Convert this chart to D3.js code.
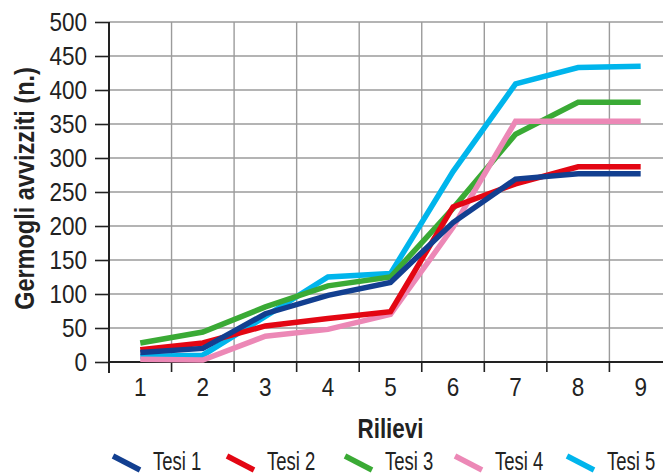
<!DOCTYPE html>
<html>
<head>
<meta charset="utf-8">
<script src="https://cdn.jsdelivr.net/npm/d3@7"></script>
<style>
  html, body { margin: 0; padding: 0; background: #fff; }
  svg { display: block; }
  text { font-family: 'Liberation Sans', Arial, sans-serif; fill: #222; }
</style>
</head>
<body>
<svg id="chart" width="663" height="476"></svg>
<script>
const categories = ["1", "2", "3", "4", "5", "6", "7", "8", "9"];
const seriesNames = ["Tesi 1", "Tesi 2", "Tesi 3", "Tesi 4", "Tesi 5"];
const tesi1 = [14, 20, 71, 98, 117, 205, 269, 277, 277];
const tesi2 = [18, 28, 53, 64, 74, 228, 262, 287, 287];
const tesi3 = [28, 44, 81, 112, 125, 226, 335, 382, 382];
const tesi4 = [4, 3, 38, 48, 70, 198, 354, 354, 354];
const tesi5 = [8, 10, 67, 125, 130, 280, 409, 433, 435];
const yTicks = [0, 50, 100, 150, 200, 250, 300, 350, 400, 450, 500];
const colors = ["#123f90", "#e30613", "#3aaa35", "#ec88b6", "#00b5ec"];
const drawOrder = [4, 2, 3, 1, 0];

(function () {
const series = [tesi1, tesi2, tesi3, tesi4, tesi5];
const svg = d3.select("#chart");

const mLeft = 109, mTop = 22, mBottom = 362;
const bandW = 62.55;
const x = d3.scaleBand().domain(categories).range([mLeft, mLeft + bandW * categories.length]).padding(0);
const y = d3.scaleLinear().domain([0, 500]).range([mBottom, mTop]);
const W = 663;

// place a horizontally condensed text
function cText(parent, tx, ty, sx, rot) {
  return parent.append("text")
    .attr("transform", `translate(${tx},${ty})${rot ? ` rotate(${rot})` : ""} scale(${sx},1)`);
}

// horizontal gridlines
svg.append("g").selectAll("line").data(yTicks.filter(d => d > 0)).join("line")
  .attr("x1", mLeft).attr("x2", W)
  .attr("y1", d => y(d)).attr("y2", d => y(d))
  .attr("stroke", "#9b9b9b").attr("stroke-width", 1.4);

// vertical gridlines at band edges
const edges = categories.map(c => x(c)).concat([x(categories[categories.length - 1]) + x.bandwidth()]);
svg.append("g").selectAll("line").data(edges.slice(1)).join("line")
  .attr("x1", d => d).attr("x2", d => d)
  .attr("y1", mTop).attr("y2", mBottom)
  .attr("stroke", "#9b9b9b").attr("stroke-width", 1.4);

// y axis
const yAxis = d3.axisLeft(y).tickValues(yTicks).tickSize(14).tickPadding(7);
const gy = svg.append("g").attr("transform", `translate(${mLeft},0)`).call(yAxis);
gy.select(".domain").remove();
gy.selectAll(".tick line").attr("stroke", "#222").attr("stroke-width", 1.6);
gy.selectAll(".tick text")
  .attr("x", 0)
  .attr("transform", "translate(-22,0) scale(0.9,1)")
  .attr("font-size", 25).attr("fill", "#222")
  .style("font-family", "'Liberation Sans', Arial, sans-serif");

// x axis ticks at band edges
svg.append("g").selectAll("line").data(edges).join("line")
  .attr("x1", d => d).attr("x2", d => d)
  .attr("y1", mBottom).attr("y2", mBottom + 10)
  .attr("stroke", "#222").attr("stroke-width", 1.6);
svg.append("line").attr("x1", mLeft).attr("x2", W).attr("y1", mBottom).attr("y2", mBottom)
  .attr("stroke", "#222").attr("stroke-width", 2);
svg.append("line").attr("x1", mLeft).attr("x2", mLeft).attr("y1", mTop).attr("y2", mBottom + 11)
  .attr("stroke", "#222").attr("stroke-width", 2);

// x labels
svg.append("g").selectAll("text").data(categories).join("text")
  .attr("transform", d => `translate(${x(d) + x.bandwidth() / 2},396) scale(0.9,1)`)
  .attr("text-anchor", "middle")
  .attr("font-size", 25)
  .text(d => d);

// axis titles
cText(svg, (x(categories[0]) + x(categories[8]) + x.bandwidth()) / 2, 438, 0.83)
  .attr("text-anchor", "middle")
  .attr("font-size", 27).attr("font-weight", "bold")
  .text("Rilievi");
cText(svg, 34, 188.5, 0.87, -90)
  .attr("text-anchor", "middle")
  .attr("font-size", 27).attr("font-weight", "bold")
  .text("Germogli avvizziti (n.)");

// lines
const line = d3.line()
  .x((d, i) => x(categories[i]) + x.bandwidth() / 2)
  .y(d => y(d));
svg.append("g").selectAll("path").data(drawOrder).join("path")
  .attr("d", i => line(series[i]))
  .attr("fill", "none")
  .attr("stroke", i => colors[i])
  .attr("stroke-width", 5.5)
  .attr("stroke-linejoin", "miter")
  .attr("stroke-linecap", "butt");

// legend
const legendX = [113, 227, 345, 455, 567];
const lg = svg.append("g");
const items = lg.selectAll("g").data(seriesNames).join("g")
  .attr("transform", (d, i) => `translate(${legendX[i]},0)`);
items.append("line")
  .attr("x1", 0).attr("y1", 456).attr("x2", 27).attr("y2", 470)
  .attr("stroke", (d, i) => colors[i]).attr("stroke-width", 5.5);
items.append("text")
  .attr("transform", "translate(40,469.5) scale(0.74,1)")
  .attr("font-size", 25)
  .text(d => d);
})();
</script>
</body>
</html>
